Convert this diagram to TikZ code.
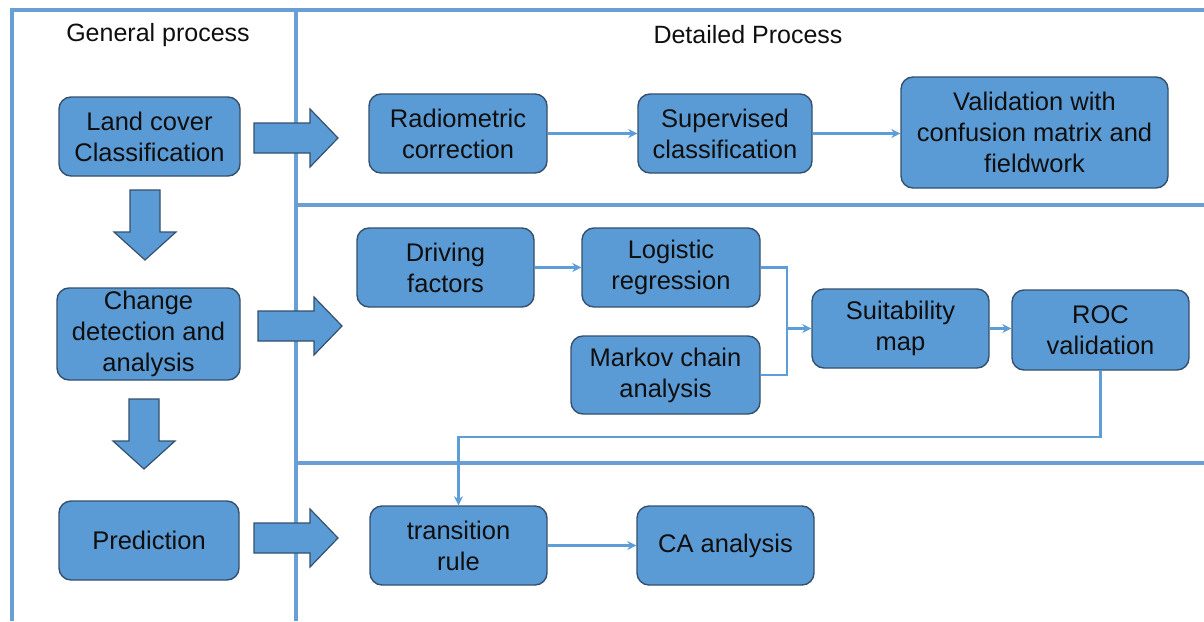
\documentclass[tikz,border=0pt]{standalone}
\usepackage{fontspec}
\setmainfont{Liberation Sans}
\usetikzlibrary{arrows.meta}
\definecolor{boxfill}{HTML}{5B9BD5}
\definecolor{boxline}{HTML}{34506E}
\definecolor{frameline}{HTML}{6A9FD6}
\definecolor{connline}{HTML}{5E9ED8}
\definecolor{txt}{HTML}{0F0F0F}
\tikzset{
  stepbox/.style={draw=boxline, line width=1.4pt, fill=boxfill, rounded corners=12pt,
    align=center, inner sep=0pt, text=txt, font=\fontsize{25.5}{31}\selectfont},
  frame/.style={draw=frameline, line width=3.2pt},
  conn/.style={draw=connline, line width=2.8pt},
  connarrow/.style={conn, -{Stealth[length=9pt,width=9pt]}},
  blockarrow/.style={draw=boxline, line width=1.2pt, fill=boxfill, line join=miter},
  title/.style={text=txt, font=\fontsize{25}{30}\selectfont},
  rarrow/.pic={\path[blockarrow] (0,-15) -- (56,-15) -- (56,-29) -- (84,0) -- (56,29) -- (56,15) -- (0,15) -- cycle;},
  darrow/.pic={\path[blockarrow] (-15,0) -- (-15,42) -- (-31,42) -- (0,70) -- (31,42) -- (15,42) -- (15,0) -- cycle;}
}
\begin{document}
\begin{tikzpicture}[x=1pt,y=-1pt]
\useasboundingbox (0,0) rectangle (1204,621);
\fill[white] (0,0) rectangle (1204,621);
% frame
\draw[frame] (12,621) -- (12,10) -- (1204,10);
\draw[frame] (296,10) -- (296,621);
\draw[frame] (296,205) -- (1204,205);
\draw[frame] (296,463) -- (1204,463);
% titles
\node[title] (t1) at (158,35) {General process};
\node[title] (t2) at (748,35) {Detailed Process};
% general process
\node[stepbox, minimum width=181pt, minimum height=79pt] (lc) at (149.5,136.5) {Land cover\\Classification};
\node[stepbox, minimum width=183pt, minimum height=92pt] (cd) at (148.5,334) {Change\\detection and\\analysis};
\node[stepbox, minimum width=180pt, minimum height=79pt] (pr) at (149,540.5) {Prediction};
\pic at (145,190) {darrow};
\pic at (144,399) {darrow};
\pic at (254,138) {rarrow};
\pic at (258,326) {rarrow};
\pic at (254,538) {rarrow};
% detailed row 1
\node[stepbox, minimum width=178pt, minimum height=79pt] (rc) at (458,133.5) {Radiometric\\correction};
\node[stepbox, minimum width=174pt, minimum height=79pt] (sc) at (725,133.5) {Supervised\\classification};
\node[stepbox, minimum width=267pt, minimum height=111pt] (val) at (1034.5,132.5) {Validation with\\confusion matrix and\\fieldwork};
\draw[connarrow] (rc.east) -- (sc.west);
\draw[connarrow] (sc.east) -- (sc.east -| val.west);
% detailed row 2
\node[stepbox, minimum width=177pt, minimum height=79pt] (df) at (445.5,267.5) {Driving\\factors};
\node[stepbox, minimum width=178pt, minimum height=79pt] (lr) at (671,267.5) {Logistic\\regression};
\node[stepbox, minimum width=189pt, minimum height=78pt] (mc) at (665.5,375) {Markov chain\\analysis};
\node[stepbox, minimum width=177pt, minimum height=79pt] (sm) at (900.5,328.5) {Suitability\\map};
\node[stepbox, minimum width=177pt, minimum height=80pt] (roc) at (1100.5,330) {ROC\\validation};
\coordinate (jn) at (787,328.5);
\draw[connarrow] (df.east) -- (lr.west);
\draw[conn] (lr.east) -| (jn);
\draw[conn] (mc.east) -| (jn);
\draw[connarrow] (jn) -- (sm.west);
\draw[connarrow] (sm.east) -- (sm.east -| roc.west);
% detailed row 3
\node[stepbox, minimum width=177pt, minimum height=79pt] (tr) at (458.5,545.5) {transition\\rule};
\node[stepbox, minimum width=177pt, minimum height=79pt] (ca) at (725.5,545.5) {CA analysis};
\coordinate (b1) at (1100.5,437);
\coordinate (b2) at (458.5,437);
\draw[connarrow] (roc.south) -- (b1) -- (b2) -- (tr.north);
\draw[connarrow] (tr.east) -- (ca.west);
\end{tikzpicture}
\end{document}
